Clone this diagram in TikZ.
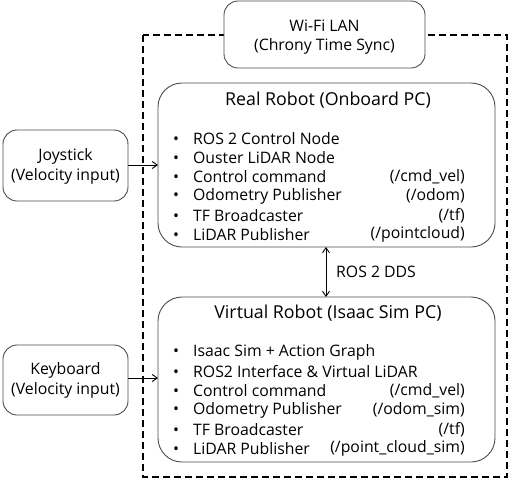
\documentclass[tikz,border=0pt]{standalone}
\usepackage{fontspec}
\setmainfont{Open Sans}
\usetikzlibrary{arrows.meta}
\tikzset{
  rbox/.style={draw=black!70, line width=0.9pt, fill=white, rounded corners=#1},
  rbox/.default=14pt,
  txt/.style={inner sep=0pt, font=\fontsize{15.8}{18}\selectfont},
  ttl/.style={inner sep=0pt, font=\fontsize{17.8}{20}\selectfont},
  item/.style={txt, anchor=west},
  topic/.style={txt, anchor=east},
  arr/.style={-{Straight Barb[length=5pt,width=7pt]}, line width=0.9pt},
}
\newcommand{\bul}[1]{\makebox[20pt][l]{•}#1}
\begin{document}
\begin{tikzpicture}[x=1pt,y=-1pt]
\useasboundingbox (0,0) rectangle (509,480);
% dashed enclosure
\draw[line width=2pt, dash pattern=on 7pt off 4pt] (143,35) rectangle (507,477);
% Wi-Fi box
\draw[rbox] (224,1) rectangle (425,68);
\node[txt] (wifi1) at (324.5,26) {Wi-Fi LAN};
\node[txt] (wifi2) at (324.5,46.5) {(Chrony Time Sync)};
% input boxes
\draw[rbox] (3,130) rectangle (128,201);
\node[txt] (joy1) at (65.5,156.5) {Joystick};
\node[txt] (joy2) at (65.5,176.5) {(Velocity input)};
\coordinate (joyE) at (128,165);
\draw[rbox] (3,345) rectangle (128,415);
\node[txt] (key1) at (65.5,370) {Keyboard};
\node[txt] (key2) at (65.5,390) {(Velocity input)};
\coordinate (keyE) at (128,378);
% Real robot
\draw[rbox=24pt] (158,83) rectangle (495,247);
\coordinate (realW) at (158,165);
\coordinate (realS) at (326,247);
\node[ttl] (realT) at (328,100.5) {Real Robot (Onboard PC)};
\node[item] (r1) at (173,138.3) {\bul{ROS 2 Control Node}};
\node[item] (r2) at (173,157.6) {\bul{Ouster LiDAR Node}};
\node[item] (r3) at (173,176.8) {\bul{Control command}};
\node[item] (r4) at (173,196) {\bul{Odometry Publisher}};
\node[item] (r5) at (173,215.2) {\bul{TF Broadcaster}};
\node[item] (r6) at (173,234.4) {\bul{LiDAR Publisher}};
\node[topic] (rt3) at (465,176.8) {(/cmd\_vel)};
\node[topic] (rt4) at (465,196) {(/odom)};
\node[topic] (rt5) at (465,215.2) {(/tf)};
\node[topic] (rt6) at (465,234.4) {(/pointcloud)};
% Virtual robot
\draw[rbox=24pt] (158,297) rectangle (495,462);
\coordinate (virW) at (158,378);
\coordinate (virN) at (326,297);
\node[ttl] (virT) at (328,313) {Virtual Robot (Isaac Sim PC)};
\node[item] (v1) at (173,352.7) {\bul{Isaac Sim + Action Graph}};
\node[item] (v2) at (173,371.8) {\bul{ROS2 Interface \& Virtual LiDAR}};
\node[item] (v3) at (173,391) {\bul{Control command}};
\node[item] (v4) at (173,410.2) {\bul{Odometry Publisher}};
\node[item] (v5) at (173,429.4) {\bul{TF Broadcaster}};
\node[item] (v6) at (173,448.5) {\bul{LiDAR Publisher}};
\node[topic] (vt3) at (465,391) {(/cmd\_vel)};
\node[topic] (vt4) at (465,410.2) {(/odom\_sim)};
\node[topic] (vt5) at (465,429.4) {(/tf)};
\node[topic] (vt6) at (465,448.5) {(/point\_cloud\_sim)};
% connectors
\draw[arr] (joyE) -- (realW);
\draw[arr] (keyE) -- (virW);
\draw[arr, {Straight Barb[length=5pt,width=7pt]}-{Straight Barb[length=5pt,width=7pt]}] (realS) -- (virN);
\node[txt, anchor=west] (dds) at (336,272) {ROS 2 DDS};
\end{tikzpicture}
\end{document}
